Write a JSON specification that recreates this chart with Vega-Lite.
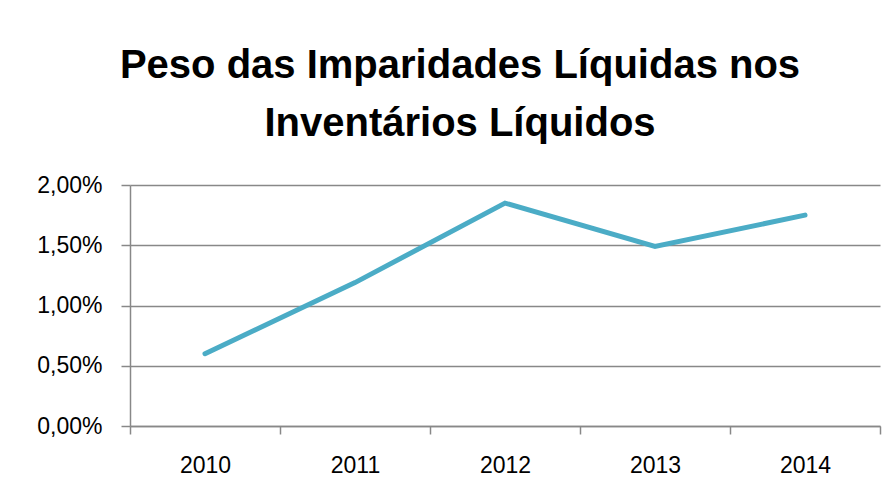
{
  "$schema": "https://vega.github.io/schema/vega-lite/v6.json",
  "width": 750,
  "height": 241,
  "autosize": {"type": "none"},
  "padding": {"left": 130, "top": 185, "right": 16, "bottom": 77},
  "background": "white",
  "title": {
    "text": ["Peso das Imparidades Líquidas nos", "Inventários Líquidos"],
    "font": "Liberation Sans",
    "fontSize": 40,
    "fontWeight": "bold",
    "color": "black",
    "lineHeight": 58,
    "anchor": "middle",
    "baseline": "bottom",
    "dx": -45,
    "offset": -10
  },
  "data": {
    "values": [
      {"ano": "2010", "valor": 0.0060},
      {"ano": "2011", "valor": 0.0119},
      {"ano": "2012", "valor": 0.0185},
      {"ano": "2013", "valor": 0.0149},
      {"ano": "2014", "valor": 0.0175}
    ]
  },
  "mark": {"type": "line", "color": "#4BACC6", "strokeWidth": 5, "strokeCap": "round", "strokeJoin": "miter"},
  "encoding": {
    "x": {
      "field": "ano",
      "type": "ordinal",
      "scale": {"type": "band", "paddingInner": 0, "paddingOuter": 0},
      "axis": {
        "title": null,
        "labelAngle": 0,
        "tickBand": "extent",
        "domainColor": "#888888",
        "domainWidth": 1.5,
        "tickColor": "#888888",
        "tickWidth": 1.5,
        "tickSize": 8,
        "labelPadding": 20,
        "labelFont": "Liberation Sans",
        "labelFontSize": 23,
        "labelColor": "black",
        "grid": false
      }
    },
    "y": {
      "field": "valor",
      "type": "quantitative",
      "scale": {"domain": [0, 0.02], "nice": false, "zero": true},
      "axis": {
        "title": null,
        "values": [0, 0.005, 0.01, 0.015, 0.02],
        "format": ".2%",
        "grid": true,
        "gridColor": "#888888",
        "gridWidth": 1.5,
        "domainColor": "#888888",
        "domainWidth": 1.5,
        "tickColor": "#888888",
        "tickWidth": 1.5,
        "tickSize": 9,
        "labelPadding": 19,
        "labelFont": "Liberation Sans",
        "labelFontSize": 23,
        "labelColor": "black"
      }
    }
  },
  "config": {
    "view": {"stroke": null},
    "locale": {"number": {"decimal": ",", "thousands": ".", "grouping": [3], "currency": ["", " €"]}}
  }
}
